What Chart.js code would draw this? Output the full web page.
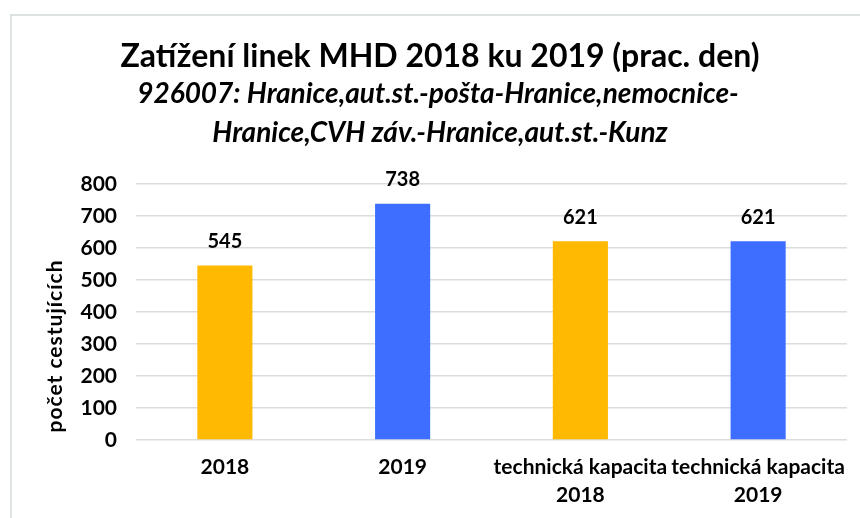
<!DOCTYPE html>
<html>
<head>
<meta charset="utf-8">
<script src="https://cdn.jsdelivr.net/npm/chart.js@4.4.1/dist/chart.umd.min.js"></script>
<style>
  html, body { margin: 0; padding: 0; background: #fff; }
  #wrap { position: relative; width: 860px; height: 518px; }
  #frame { position: absolute; left: 10px; top: 14px; right: -4px; bottom: -4px;
           border-top: 2px solid #dde2e2; border-left: 2px solid #dde2e2; }
  canvas { position: absolute; left: 0; top: 0; }
</style>
</head>
<body>
<div id="wrap">
  <div id="frame"></div>
  <canvas id="chart" width="860" height="518"></canvas>
</div>
<script>
var ctx = document.getElementById('chart');

// Colors
var yellow = '#ffb900';
var blue = '#3d6eff';
var gridColor = '#d9dddd';

// Chart data
const categories = ['2018', '2019', ['technická kapacita', '2018'], ['technická kapacita', '2019']];
const passengers = [545, 738, 621, 621];
const barColors = [yellow, blue, yellow, blue];
const yTicks = [0, 100, 200, 300, 400, 500, 600, 700, 800];

// Texts
const titleText = 'Zatížení linek MHD 2018 ku 2019 (prac. den)';
const subtitleLines = ['926007: Hranice,aut.st.-pošta-Hranice,nemocnice-', 'Hranice,CVH záv.-Hranice,aut.st.-Kunz'];
const yAxisTitle = 'počet cestujících';

// Title block, centred on the whole frame rather than the canvas
const titleBlock = {
    id: 'titleBlock',
    afterDraw(chart) {
        const c = chart.ctx;
        c.save();
        c.fillStyle = '#000';
        c.textAlign = 'center';
        c.textBaseline = 'middle';
        c.font = 'bold 32px Lato';
        c.fillText(titleText, 440, 57);
        c.font = 'italic bold 28px Lato';
        c.fillText(subtitleLines[0], 438, 94);
        c.fillText(subtitleLines[1], 440, 133);
        c.restore();
    }
};

// Value labels above the bars
const valueLabels = {
    id: 'valueLabels',
    afterDatasetsDraw(chart) {
        const c = chart.ctx;
        const meta = chart.getDatasetMeta(0);
        c.save();
        c.font = 'bold 20px Lato';
        c.fillStyle = '#000';
        c.textAlign = 'center';
        c.textBaseline = 'middle';
        meta.data.forEach(function (bar, i) {
            c.fillText(passengers[i], bar.x, bar.y - 24);
        });
        c.restore();
    }
};

// Vertical axis title, sitting a bit below the middle of the axis
const axisTitle = {
    id: 'axisTitle',
    afterDraw(chart) {
        const c = chart.ctx;
        c.save();
        c.translate(55, 346);
        c.rotate(-Math.PI / 2);
        c.font = 'bold 21px Lato';
        c.letterSpacing = '1px';
        c.fillStyle = '#000';
        c.textAlign = 'center';
        c.textBaseline = 'middle';
        c.fillText(yAxisTitle, 0, 0);
        c.restore();
    }
};

const config = {
    type: 'bar',
    data: {
        labels: categories,
        datasets: [{
            data: passengers,
            backgroundColor: barColors,
            categoryPercentage: 1,
            barPercentage: 0.31
        }]
    },
    options: {
        responsive: false,
        animation: false,
        layout: { padding: { top: 184, right: 13, bottom: 0, left: 0 } },
        plugins: {
            legend: { display: false },
            tooltip: { enabled: false },
            title: { display: false }
        },
        scales: {
            x: {
                afterFit(scale) { scale.height = 78; },
                grid: { display: false, drawTicks: false },
                border: { display: false },
                ticks: {
                    color: '#000',
                    font: { family: 'Lato', size: 21, weight: 'bold', lineHeight: 1.33 },
                    padding: 13,
                    autoSkip: false,
                    maxRotation: 0
                }
            },
            y: {
                min: 0,
                max: 800,
                afterFit(scale) { scale.width = 136; },
                afterBuildTicks(scale) { scale.ticks = yTicks.map(v => ({ value: v })); },
                grid: { color: gridColor, lineWidth: 1.5, drawTicks: false },
                border: { display: false },
                ticks: {
                    color: '#000',
                    font: { family: 'Lato', size: 21, weight: 'bold' },
                    padding: 19
                }
            }
        }
    },
    plugins: [titleBlock, valueLabels, axisTitle]
};

var myChart = new Chart(ctx, config);
</script>
</body>
</html>
